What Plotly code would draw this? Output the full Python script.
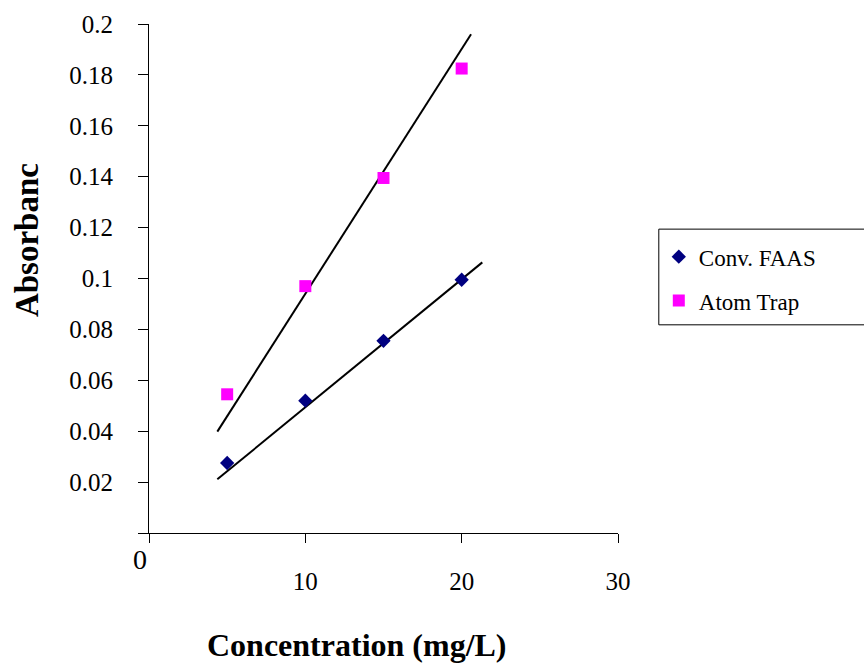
import numpy as np
import plotly.graph_objects as go

# ---- data ----
concentration = [5, 10, 15, 20]
conv_faas = [0.0275, 0.052, 0.0755, 0.0995]
atom_trap = [0.0545, 0.097, 0.1395, 0.1825]

# trend lines (slope, intercept, x-range)
conv_trend_coef = [0.00503, -0.0009]
conv_trend_x = [4.37, 21.32]
atom_trend_coef = [0.00962, -0.0022]
atom_trend_x = [4.37, 20.6]

y_ticks = [0, 0.02, 0.04, 0.06, 0.08, 0.1, 0.12, 0.14, 0.16, 0.18, 0.2]
y_ticklabels = ["", "0.02", "0.04", "0.06", "0.08", "0.1", "0.12", "0.14", "0.16", "0.18", "0.2"]
x_ticks = [0, 10, 20, 30]
x_ticklabels = ["", "10", "20", "30"]

FONT = "Liberation Serif"

fig = go.Figure()

def line_y(coef, xs):
    return [coef[0] * x + coef[1] for x in xs]

fig.add_trace(go.Scatter(x=conv_trend_x, y=line_y(conv_trend_coef, conv_trend_x),
                         mode="lines", line=dict(color="black", width=2),
                         showlegend=False, hoverinfo="skip"))
fig.add_trace(go.Scatter(x=atom_trend_x, y=line_y(atom_trend_coef, atom_trend_x),
                         mode="lines", line=dict(color="black", width=2),
                         showlegend=False, hoverinfo="skip"))

fig.add_trace(go.Scatter(x=concentration, y=conv_faas, mode="markers", name="Conv. FAAS",
                         legendgroup="a",
                         marker=dict(symbol="diamond", size=11, color="#000080",
                                     line=dict(width=0))))
fig.add_trace(go.Scatter(x=concentration, y=atom_trap, mode="markers", name="Atom Trap",
                         legendgroup="b",
                         marker=dict(symbol="square", size=12, color="#FF00FF",
                                     line=dict(width=0))))

fig.update_layout(
    width=864, height=668,
    margin=dict(l=149, r=246, t=24, b=135),
    plot_bgcolor="white", paper_bgcolor="white",
    font=dict(family=FONT, color="black", size=24),
    legend=dict(x=1.087, y=0.585, xanchor="left", yanchor="top",
                borderwidth=0, bgcolor="rgba(0,0,0,0)",
                font=dict(family=FONT, size=23, color="black"),
                tracegroupgap=11, traceorder="grouped",
                itemwidth=30),
    showlegend=True,
)

# legend frame (extends past the right edge like the reference)
fig.add_shape(type="rect", xref="paper", yref="paper",
              x0=1.087, x1=1.56, y0=0.409, y1=0.597,
              line=dict(color="black", width=1), fillcolor="rgba(0,0,0,0)")

fig.update_xaxes(range=[0, 30], tickvals=x_ticks, ticktext=x_ticklabels,
                 showline=True, linecolor="black", linewidth=1,
                 ticks="outside", ticklen=9, tickcolor="black", tickwidth=1,
                 showgrid=False, zeroline=False, ticklabelstandoff=17,
                 tickfont=dict(family=FONT, size=25))
fig.update_yaxes(range=[0, 0.2], tickvals=y_ticks, ticktext=y_ticklabels,
                 showline=True, linecolor="black", linewidth=1,
                 ticks="outside", ticklen=10, tickcolor="black", tickwidth=1,
                 showgrid=False, zeroline=False, ticklabelstandoff=20,
                 tickfont=dict(family=FONT, size=25))

fig.add_annotation(text="0", x=-0.019, y=-0.053, xref="paper", yref="paper",
                   showarrow=False, xanchor="center", yanchor="middle",
                   font=dict(family=FONT, size=28))
fig.add_annotation(text="<b>Concentration (mg/L)</b>", x=0.4435, y=-0.22,
                   xref="paper", yref="paper", showarrow=False,
                   xanchor="center", yanchor="middle",
                   font=dict(family=FONT, size=32))
fig.add_annotation(text="<b>Absorbanc</b>", x=-0.26, y=0.5756,
                   xref="paper", yref="paper", showarrow=False, textangle=-90,
                   xanchor="center", yanchor="middle",
                   font=dict(family=FONT, size=33))

fig.write_html("out.html")
